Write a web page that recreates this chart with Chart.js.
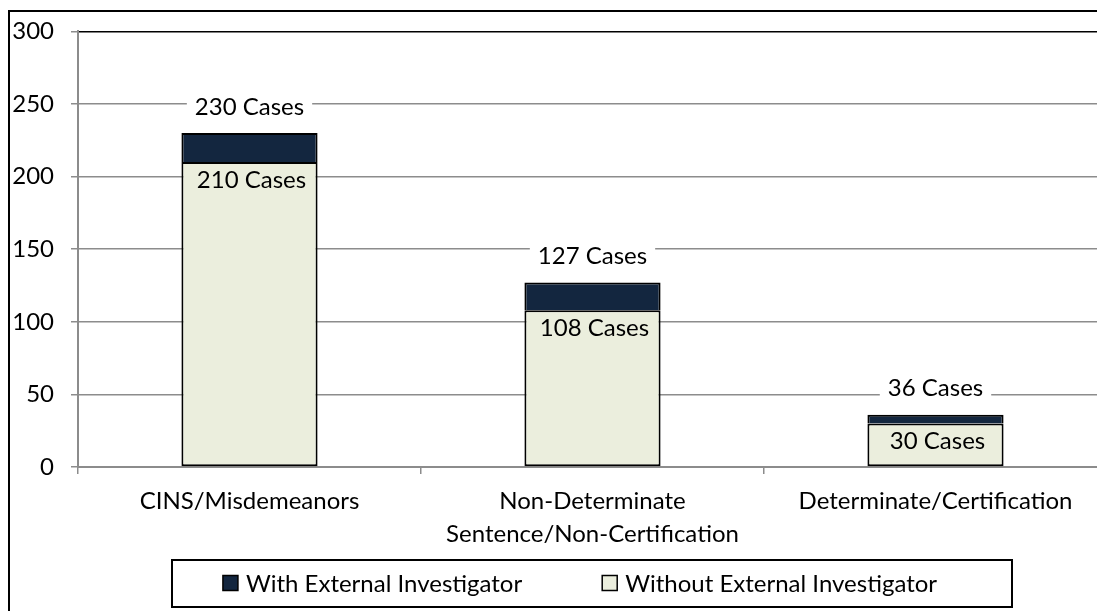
<!DOCTYPE html>
<html>
<head>
<meta charset="utf-8">
<title>Cases with and without external investigator</title>
<script src="https://cdn.jsdelivr.net/npm/chart.js@4.4.1/dist/chart.umd.min.js"></script>
<style>
    html, body { margin: 0; padding: 0; background: #fff; overflow: hidden; }
    #wrap { position: relative; width: 1130px; height: 611px; }
</style>
</head>
<body>
<div id="wrap"><canvas id="casesChart"></canvas></div>
<script>
// Chart data
var categories = ['CINS/Misdemeanors', ['Non-Determinate', 'Sentence/Non-Certification'], 'Determinate/Certification'];
var withInvestigator    = [20, 19, 6];
var withoutInvestigator = [210, 108, 30];
var seriesLabels = ['With External Investigator', 'Without External Investigator'];
var yTicks = [0, 50, 100, 150, 200, 250, 300];

(function () {
    'use strict';

    var FONT_FAMILY = 'Lato, "Open Sans", sans-serif';
    var FONT_SIZE   = 24;
    var FONT        = FONT_SIZE + 'px ' + FONT_FAMILY;
    var DARK  = '#13263f';
    var LIGHT = '#ebeedd';
    var GRID  = '#8c8c8c';

    // Outer frame (only left and top edges are inside the picture)
    var frame = {
        id: 'frame',
        afterDraw: function (chart) {
            var c = chart.ctx;
            c.save();
            c.strokeStyle = '#000';
            c.lineWidth = 2;
            c.beginPath();
            c.moveTo(9, chart.height + 5);
            c.lineTo(9, 11);
            c.lineTo(chart.width + 5, 11);
            c.stroke();
            c.restore();
        }
    };

    // "NNN Cases" labels: totals above bars, lower segment inside
    var caseLabels = {
        id: 'caseLabels',
        afterDatasetsDraw: function (chart) {
            var c = chart.ctx;
            var lower = chart.getDatasetMeta(0).data;
            var upper = chart.getDatasetMeta(1).data;
            c.save();
            c.font = FONT;
            c.textAlign = 'center';
            c.textBaseline = 'middle';
            for (var i = 0; i < categories.length; i++) {
                var txt = (withoutInvestigator[i] + withInvestigator[i]) + ' Cases';
                var w = c.measureText(txt).width;
                var x = upper[i].x;
                var y = upper[i].y - 26;
                c.fillStyle = '#fff';
                c.fillRect(x - w / 2 - 8, y - 12, w + 16, 24);
                c.fillStyle = '#000';
                c.fillText(txt, x, y);
                c.fillText(withoutInvestigator[i] + ' Cases', lower[i].x + 2, lower[i].y + 18);
            }
            c.restore();
        }
    };

    // Boxed legend at the bottom
    var boxLegend = {
        id: 'boxLegend',
        afterDraw: function (chart) {
            var c = chart.ctx;
            var box = { left: 172, top: 560, right: 1012, bottom: 607 };
            var colors = [DARK, LIGHT];
            var sq = 15, gap = 8, between = 80;
            c.save();
            c.strokeStyle = '#000';
            c.lineWidth = 2;
            c.strokeRect(box.left, box.top, box.right - box.left, box.bottom - box.top);
            c.font = FONT;
            c.textBaseline = 'middle';
            c.textAlign = 'left';
            var widths = seriesLabels.map(function (s) { return c.measureText(s).width; });
            var total = 2 * (sq + gap) + widths[0] + widths[1] + between;
            var x = 580 - total / 2;
            var cy = 583;
            for (var i = 0; i < seriesLabels.length; i++) {
                c.fillStyle = colors[i];
                c.fillRect(x, cy - sq / 2, sq, sq);
                c.lineWidth = 1.5;
                c.strokeRect(x, cy - sq / 2, sq, sq);
                c.fillStyle = '#000';
                c.fillText(seriesLabels[i], x + sq + gap, cy + 1);
                x += sq + gap + widths[i] + between;
            }
            c.restore();
        }
    };

    var barStyle = {
        borderColor: '#000',
        borderWidth: 2,
        barPercentage: 0.397,
        categoryPercentage: 1
    };

    var config = {
        type: 'bar',
        data: {
            labels: categories,
            datasets: [
                Object.assign({ label: seriesLabels[1], data: withoutInvestigator, backgroundColor: LIGHT, borderSkipped: false }, barStyle),
                Object.assign({ label: seriesLabels[0], data: withInvestigator, backgroundColor: DARK, borderSkipped: 'bottom' }, barStyle)
            ]
        },
        options: {
            responsive: true,
            maintainAspectRatio: false,
            animation: false,
            layout: { padding: { left: 0, top: 28, right: 23, bottom: 0 } },
            scales: {
                x: {
                    stacked: true,
                    afterFit: function (scale) { scale.height = 144; },
                    border: { color: GRID, width: 2 },
                    grid: { drawOnChartArea: false, tickLength: 7, color: GRID, lineWidth: 1.5 },
                    ticks: {
                        color: '#000',
                        padding: 11,
                        maxRotation: 0,
                        autoSkip: false,
                        font: { family: FONT_FAMILY, size: FONT_SIZE, lineHeight: 1.375 }
                    }
                },
                y: {
                    stacked: true,
                    min: yTicks[0],
                    max: yTicks[yTicks.length - 1],
                    afterFit: function (scale) { scale.width = 78; },
                    afterBuildTicks: function (scale) {
                        scale.ticks = yTicks.map(function (v) { return { value: v }; });
                    },
                    border: { color: GRID, width: 2 },
                    grid: {
                        tickLength: 7,
                        lineWidth: 1.5,
                        tickColor: GRID,
                        color: function (ctx) {
                            return ctx.tick && ctx.tick.value === yTicks[yTicks.length - 1] ? '#000' : GRID;
                        }
                    },
                    ticks: {
                        color: '#000',
                        padding: 17,
                        font: { family: FONT_FAMILY, size: FONT_SIZE }
                    }
                }
            },
            plugins: {
                legend: { display: false },
                tooltip: { enabled: false }
            }
        },
        plugins: [caseLabels, boxLegend, frame]
    };

    new Chart(document.getElementById('casesChart'), config);
}());
</script>
</body>
</html>
